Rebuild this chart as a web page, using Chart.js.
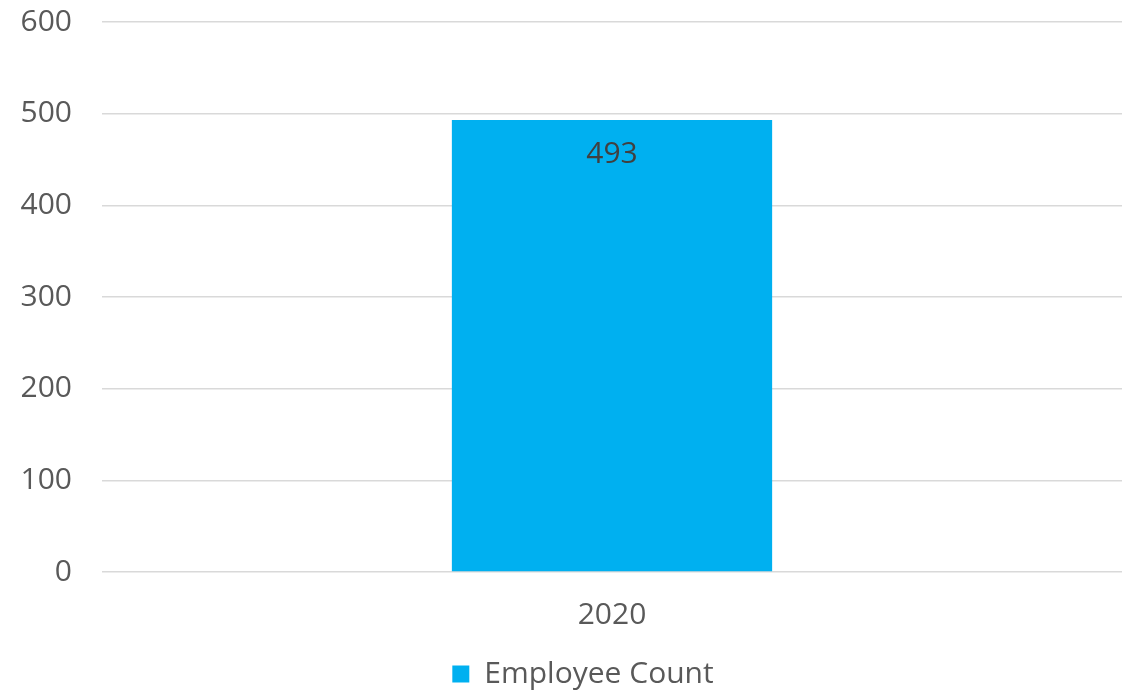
<!DOCTYPE html>
<html>
<head>
<meta charset="utf-8">
<script src="https://cdn.jsdelivr.net/npm/chart.js@4/dist/chart.umd.min.js"></script>
<style>
  html, body { margin: 0; padding: 0; background: #fff; }
  #wrap { width: 1135px; height: 695px; }
</style>
</head>
<body>
<div id="wrap"><canvas id="chart"></canvas></div>
<script>
// Chart data
const categories = ['2020'];
const employeeCount = [493];
const yTicks = [0, 100, 200, 300, 400, 500, 600];

const FONT = "'Open Sans', sans-serif";

// Value label inside the top of each bar
const barLabels = {
    id: 'barLabels',
    afterDatasetsDraw(chart) {
        const ctx = chart.ctx;
        const meta = chart.getDatasetMeta(0);
        ctx.save();
        ctx.font = '30px ' + FONT;
        ctx.fillStyle = '#404040';
        ctx.textAlign = 'center';
        ctx.textBaseline = 'middle';
        meta.data.forEach((bar, i) => {
            ctx.fillText(String(employeeCount[i]), bar.x, bar.y + 34);
        });
        ctx.restore();
    }
};

// Excel puts the legend a bit off centre and lower
const legendShift = {
    id: 'legendShift',
    afterLayout(chart) {
        const lg = chart.legend;
        lg.left += 22;
        lg.right += 22;
        lg.top += 4;
        lg.bottom += 4;
    }
};

new Chart(document.getElementById('chart'), {
    type: 'bar',
    data: {
        labels: categories,
        datasets: [{
            label: 'Employee Count',
            data: employeeCount,
            backgroundColor: '#00B0F0',
            borderWidth: 0,
            categoryPercentage: 1,
            barPercentage: 0.314
        }]
    },
    options: {
        responsive: true,
        maintainAspectRatio: false,
        animation: false,
        layout: {
            padding: { top: 0, left: 0, right: 13, bottom: 0 }
        },
        plugins: {
            legend: {
                position: 'bottom',
                labels: {
                    boxWidth: 17,
                    boxHeight: 17,
                    padding: 1,
                    color: '#595959',
                    font: { family: FONT, size: 30 }
                }
            },
            tooltip: { enabled: false }
        },
        scales: {
            x: {
                afterFit(axis) {
                    axis.height -= 4;
                },
                grid: { display: false, drawTicks: false },
                border: { display: false },
                ticks: {
                    color: '#595959',
                    padding: 25,
                    font: { family: FONT, size: 30 }
                }
            },
            y: {
                min: 0,
                max: 600,
                afterBuildTicks(axis) {
                    axis.ticks = yTicks.map(v => ({ value: v }));
                },
                afterFit(axis) {
                    axis.width = 102;
                    axis.paddingTop = 22;
                    axis.paddingBottom = 0;
                },
                grid: {
                    color: '#d9d9d9',
                    lineWidth: 1.5,
                    drawTicks: false
                },
                border: { display: false },
                ticks: {
                    color: '#595959',
                    padding: 30,
                    font: { family: FONT, size: 30 }
                }
            }
        }
    },
    plugins: [barLabels, legendShift]
});
</script>
</body>
</html>
